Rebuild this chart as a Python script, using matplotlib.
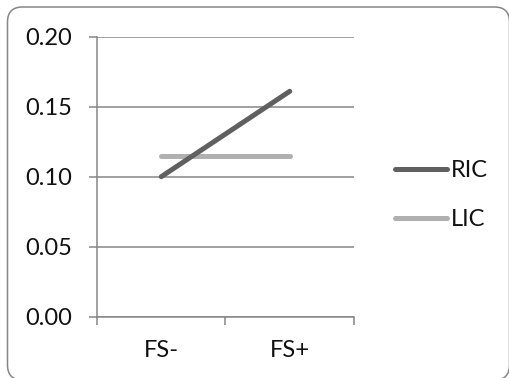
import matplotlib
matplotlib.use("Agg")
import matplotlib.pyplot as plt
from matplotlib.patches import FancyBboxPatch
from matplotlib.transforms import IdentityTransform

categories = ["FS-", "FS+"]
ric = [0.100, 0.161]
lic = [0.115, 0.115]
yticks = [0.00, 0.05, 0.10, 0.15, 0.20]
series_names = ["RIC", "LIC"]

plt.rcParams['font.family'] = ['Lato', 'DejaVu Sans']
FS = 17
W, H = 510, 378
fig = plt.figure(figsize=(W / 100, H / 100), dpi=100)

ax = fig.add_axes([97 / W, 1 - 316.7 / H, (354 - 97) / W, (316.7 - 36.7) / H])
grid_c = '#868686'
xpos = [i + 0.5 for i in range(len(categories))]
ax.plot(xpos, ric, color='#606060', lw=3.6, solid_capstyle='round', label=series_names[0], zorder=3)
ax.plot(xpos, lic, color='#b0b0b0', lw=3.6, solid_capstyle='round', label=series_names[1], zorder=2)

ax.set_xlim(0, len(categories))
ax.set_ylim(0, 0.20)
ax.set_yticks(yticks)
ax.set_yticklabels([f"{v:.2f}" for v in yticks])
ax.set_xticks(range(len(categories) + 1))
ax.set_xticklabels([])
ax.set_xticks(xpos, minor=True)
ax.set_xticklabels(categories, minor=True)
ax.tick_params(axis='x', which='minor', length=0, pad=17, labelsize=FS, labelcolor='#111111')
ax.tick_params(axis='x', which='major', length=5.8, width=1.1, color=grid_c)
ax.tick_params(axis='y', length=5.8, width=1.1, color=grid_c, pad=12, labelsize=FS, labelcolor='#111111')
ax.grid(axis='y', color=grid_c, lw=1.1)
ax.set_axisbelow(True)
for s in ['top', 'right']:
    ax.spines[s].set_visible(False)
for s in ['left', 'bottom']:
    ax.spines[s].set_color(grid_c)
    ax.spines[s].set_linewidth(1.1)

leg = fig.legend(loc='center left', bbox_to_anchor=(395 / W, 1 - 195 / H), frameon=False,
                 fontsize=FS, handlelength=2.2, handletextpad=0.15, labelspacing=1.2,
                 borderpad=0, borderaxespad=0)
for t in leg.get_texts():
    t.set_color('#111111')

box = FancyBboxPatch((7.5, -2), 509.5 - 7.5, 371 + 2, boxstyle="round,pad=0,rounding_size=15",
                     transform=IdentityTransform(), fill=False, edgecolor='#868686', lw=1.1)
fig.patches.append(box)

fig.savefig("out.png", dpi=100)
